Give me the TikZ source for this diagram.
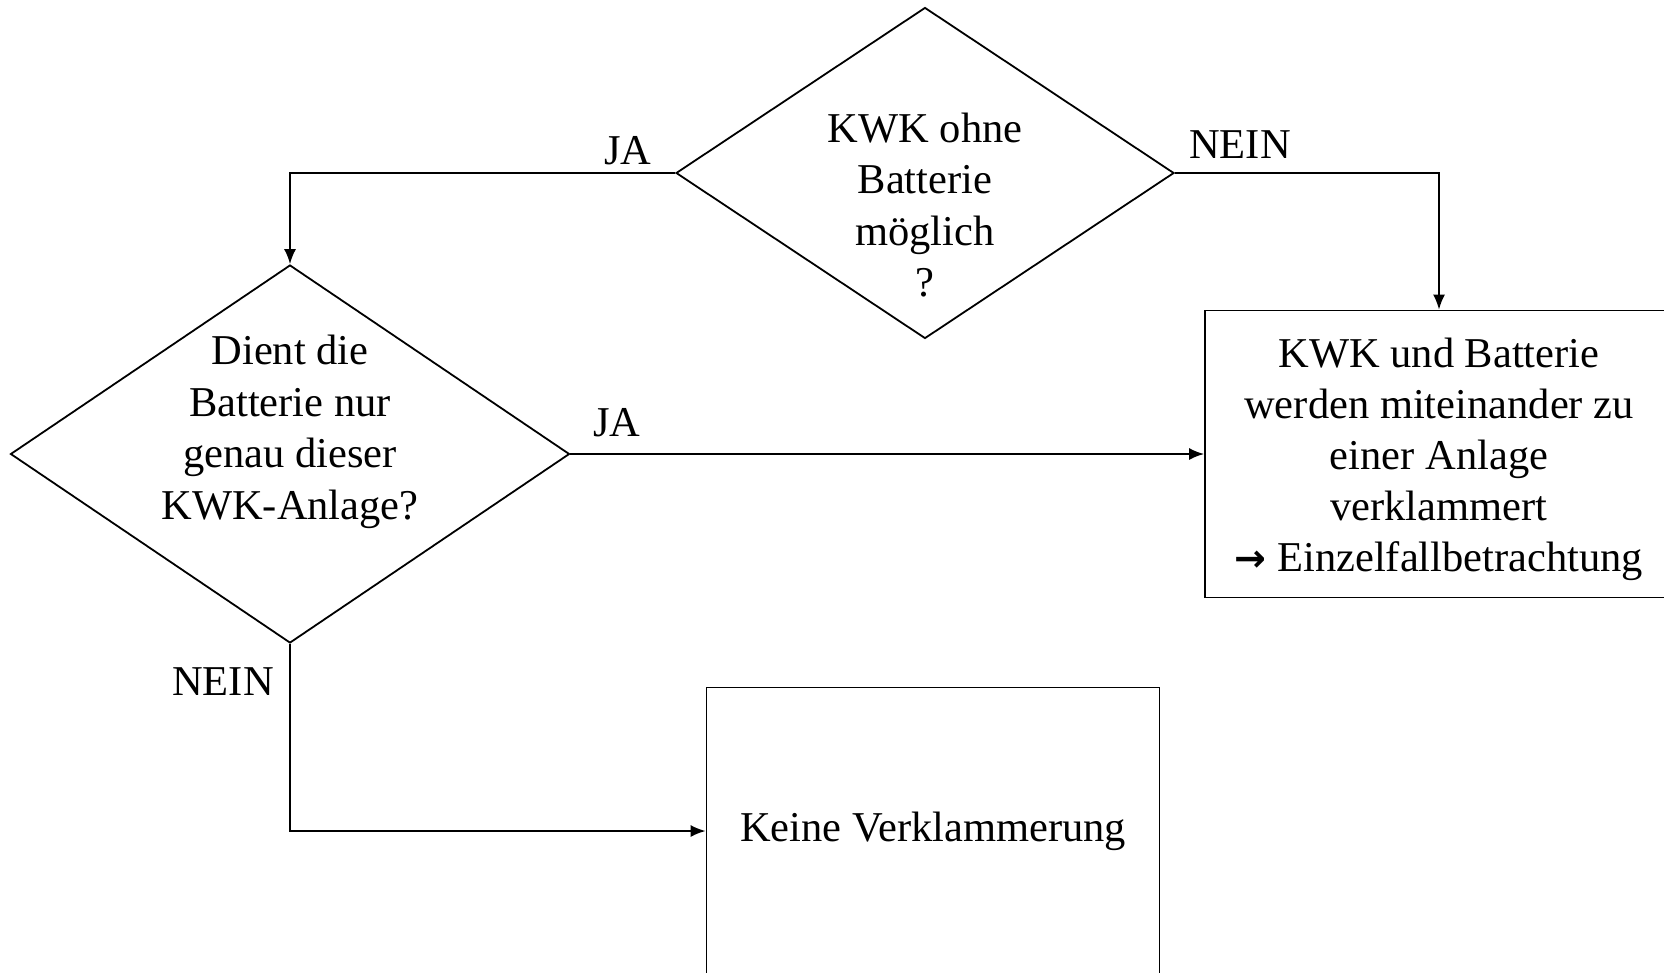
\documentclass[tikz,border=0pt]{standalone}
\usepackage{fontspec}
\setmainfont{Liberation Serif}
\newfontfamily\symfont{DejaVu Sans}
\usetikzlibrary{shapes.geometric,arrows.meta}
\begin{document}
\begin{tikzpicture}[x=1pt,y=-1pt,
  line/.style={line width=1.8pt},
  arr/.style={line, -{Latex[length=15pt,width=12pt]}},
  decision/.style={diamond, draw, line width=1.8pt, inner sep=0pt},
  box/.style={rectangle, draw, line width=1.8pt, inner sep=0pt, font=\fontsize{42.5}{51}\selectfont, align=center},
  txt/.style={font=\fontsize{42.5}{51.5}\selectfont, align=center, inner sep=0pt},
]
\useasboundingbox (0,0) rectangle (1664,972);
\clip (0,0) rectangle (1664,972);
\node[decision, minimum width=498pt, minimum height=331pt] (d1) at (925,173) {};
\node[txt] (t1) at (925,205) {KWK ohne\\Batterie\\möglich\\?};
\node[decision, minimum width=559pt, minimum height=378pt] (d2) at (290,454) {};
\node[txt] (t2) at (290,432) {Dient die\\Batterie nur\\genau dieser\\KWK-Anlage?};
\node[box, minimum width=468pt, minimum height=287pt] (b1) at (1439,454) {};
\node[txt, font=\fontsize{42.5}{51}\selectfont] (t3) at (1439,459)
  {KWK und Batterie\\werden miteinander zu\\einer Anlage\\verklammert\\{\symfont\bfseries\fontsize{38}{51}\selectfont →} Einzelfallbetrachtung};
\node[box, minimum width=453pt, minimum height=287pt] (b2) at (933,831) {Keine Verklammerung};
\draw[arr] (d1.west) -| (d2.north);
\draw[arr] (d1.east) -| (b1.north);
\draw[arr] (d2.east) -- (b1.west);
\draw[arr] (d2.south) |- (b2.west);
\node[txt] (l1) at (628,151) {JA};
\node[txt] (l2) at (1240,145) {NEIN};
\node[txt] (l3) at (617,423) {JA};
\node[txt] (l4) at (223,682) {NEIN};
\end{tikzpicture}
\end{document}
